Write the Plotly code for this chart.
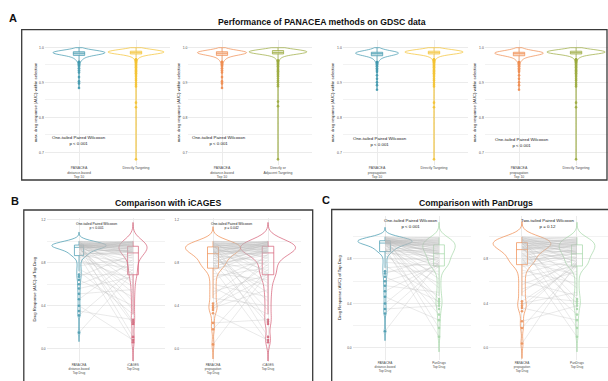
import numpy as np
import plotly.graph_objects as go

W, H = 608, 381
FONT = "Liberation Sans, Arial, Helvetica, sans-serif"

# ---------------- Panel A: max. drug response (AUC) within selection ----------------
# (value, count) pairs read from the violins / box plots
A_dist_top10_vals = [0.999, 0.996, 0.993, 0.991, 0.989, 0.987, 0.985, 0.983, 0.981, 0.979, 0.977, 0.975,
                     0.972, 0.969, 0.966, 0.963, 0.959, 0.955, 0.951, 0.947, 0.94, 0.934, 0.928, 0.915,
                     0.903, 0.897, 0.884]
A_dist_top10_counts = [2, 4, 7, 10, 13, 15, 16, 15, 13, 10, 8, 6, 5, 4, 3, 2, 2, 1, 1, 1, 1, 1, 1, 1, 1, 1, 1]

A_prop_top10_vals = [0.999, 0.996, 0.993, 0.99, 0.988, 0.986, 0.984, 0.982, 0.98, 0.978, 0.976, 0.974,
                     0.971, 0.968, 0.965, 0.962, 0.958, 0.954, 0.95, 0.946, 0.94, 0.935, 0.93, 0.92,
                     0.91, 0.9, 0.892, 0.879]
A_prop_top10_counts = [2, 4, 7, 10, 13, 15, 16, 15, 13, 11, 9, 7, 5, 4, 3, 2, 2, 1, 1, 1, 1, 1, 1, 1, 1, 1, 1, 1]

A_direct_vals = [0.999, 0.997, 0.995, 0.993, 0.991, 0.989, 0.987, 0.985, 0.983, 0.981, 0.979, 0.976,
                 0.973, 0.97, 0.966, 0.962, 0.958, 0.955, 0.951, 0.947, 0.943, 0.938, 0.934, 0.93,
                 0.926, 0.921, 0.916, 0.91, 0.905, 0.899, 0.893, 0.888, 0.842, 0.829, 0.68]
A_direct_counts = [2, 5, 9, 14, 18, 22, 24, 24, 20, 15, 10, 7, 5, 3, 2, 2, 1, 1, 1, 1, 1, 1, 1, 1,
                   1, 1, 1, 1, 1, 1, 1, 1, 1, 1, 1]

A_adjacent_vals = [0.999, 0.997, 0.995, 0.993, 0.991, 0.989, 0.987, 0.985, 0.983, 0.981, 0.979, 0.976,
                   0.973, 0.97, 0.966, 0.962, 0.958, 0.954, 0.95, 0.946, 0.941, 0.936, 0.932, 0.927,
                   0.922, 0.917, 0.911, 0.905, 0.9, 0.894, 0.889, 0.845, 0.832, 0.68]
A_adjacent_counts = [3, 6, 10, 15, 19, 22, 23, 22, 19, 14, 10, 7, 5, 3, 2, 2, 1, 1, 1, 1, 1, 1, 1, 1,
                     1, 1, 1, 1, 1, 1, 1, 1, 1, 1]

# ---------------- Panels B / C: AUC of top drug per cell line (paired by position) ----------------
top_drug_dist = [1.0, 0.998, 0.995, 0.993, 0.99, 0.988, 0.986, 0.984, 0.982, 0.98,
                 0.978, 0.976, 0.974, 0.972, 0.97, 0.968, 0.966, 0.964, 0.962, 0.961,
                 0.96, 0.959, 0.958, 0.957, 0.956, 0.955, 0.954, 0.953, 0.952, 0.951,
                 0.95, 0.948, 0.947, 0.945, 0.944, 0.942, 0.94, 0.937, 0.934, 0.93,
                 0.926, 0.921, 0.916, 0.91, 0.904, 0.898, 0.892, 0.887, 0.882, 0.877,
                 0.873, 0.869, 0.866, 0.85, 0.83, 0.8, 0.77, 0.74, 0.72, 0.69,
                 0.67, 0.64, 0.6, 0.56, 0.51, 0.46, 0.4, 0.35, 0.31, 0.15]
top_drug_prop = [1.0, 0.997, 0.994, 0.99, 0.987, 0.984, 0.981, 0.978, 0.975, 0.972,
                 0.969, 0.966, 0.963, 0.96, 0.957, 0.954, 0.95, 0.947, 0.944, 0.941,
                 0.938, 0.934, 0.93, 0.926, 0.922, 0.918, 0.914, 0.91, 0.906, 0.902,
                 0.899, 0.896, 0.893, 0.89, 0.888, 0.88, 0.872, 0.864, 0.856, 0.848,
                 0.84, 0.832, 0.824, 0.816, 0.808, 0.8, 0.792, 0.784, 0.776, 0.768,
                 0.76, 0.754, 0.749, 0.73, 0.7, 0.67, 0.64, 0.6, 0.57, 0.53,
                 0.5, 0.47, 0.42, 0.4, 0.38, 0.36, 0.33, 0.24, 0.18, 0.04]
top_drug_icages = [0.982, 0.95, 0.998, 0.7, 0.965, 0.936, 0.25, 0.988, 0.905, 0.974,
                   0.84, 0.992, 0.92, 0.959, 0.61, 0.977, 0.894, 1.0, 0.77, 0.946,
                   0.962, 0.11, 0.928, 0.985, 0.86, 0.953, 0.44, 0.908, 0.971, 0.899,
                   0.725, 0.99, 0.932, 0.36, 0.956, 0.888, 0.94, 0.815, 0.968, 0.52,
                   0.902, 0.995, 0.693, 0.916, 0.23, 0.98, 0.87, 0.943, 0.58, 0.896,
                   0.924, 0.8, 0.06, 0.912, 0.64, 0.755, 0.85, 0.48, 0.32, 0.688,
                   0.88, 0.4, 0.785, 0.67, 0.55, 0.83, 0.08, 0.27, 0.74, 0.71]
top_drug_pandrugs = [0.942, 0.99, 0.862, 0.975, 0.907, 0.35, 0.958, 0.836, 0.995, 0.922,
                     0.768, 0.95, 0.887, 0.966, 0.62, 0.931, 0.98, 0.855, 0.44, 0.912,
                     0.946, 0.804, 0.97, 0.897, 0.18, 0.939, 0.872, 0.985, 0.75, 0.917,
                     0.852, 0.962, 0.54, 0.902, 0.936, 0.782, 0.954, 0.867, 0.4, 0.927,
                     0.882, 0.72, 0.933, 0.844, 0.1, 0.892, 0.812, 0.858, 0.66, 0.877,
                     0.745, 0.85, 0.3, 0.828, 0.58, 0.796, 0.737, 0.47, 0.762, 0.69,
                     0.82, 0.42, 0.741, 0.5, 0.756, 0.25, 0.789, 0.38, 0.738, 0.775]

# ---------------- labels ----------------
LBL_DIST10 = "PANACEA<br>distance-based<br>Top 10"
LBL_PROP10 = "PANACEA<br>propagation<br>Top 10"
LBL_DIRECT = "Directly Targeting"
LBL_ADJ = "Directly or<br>Adjacent Targeting"
LBL_DISTTOP = "PANACEA<br>distance-based<br>Top Drug"
LBL_PROPTOP = "PANACEA<br>propagation<br>Top Drug"
LBL_ICAGES = "iCAGES<br>Top Drug"
LBL_PANDRUGS = "PanDrugs<br>Top Drug"
YT_A = "max. drug response (AUC) within selection"
YT_BC = "Drug Response (AUC) of Top Drug"

TEAL = "#3E97AD"
YELLOW = "#F3C22F"
ORANGE = "#EF8A4C"
OLIVE = "#9AA93B"
PINK = "#D45A72"
GREEN = "#A3D7A6"
GRID = "#EBEBEB"
TICK = "#4D4D4D"


def rgba(h, a):
    h = h.lstrip("#")
    return "rgba(%d,%d,%d,%.2f)" % (int(h[0:2], 16), int(h[2:4], 16), int(h[4:6], 16), a)


A_dist = np.repeat(A_dist_top10_vals, A_dist_top10_counts)
A_prop = np.repeat(A_prop_top10_vals, A_prop_top10_counts)
A_dir = np.repeat(A_direct_vals, A_direct_counts)
A_adj = np.repeat(A_adjacent_vals, A_adjacent_counts)

# subplot specs (pixel boxes for layout); ytx = x pixel of the y-axis title
specs = [
    dict(x=(44.8, 170.2), y=(40.0, 164.6), xr=[-0.6, 1.6], yr=[0.665, 1.021], kind="A",
         L=(A_dist, TEAL, 0.91), R=(A_dir, YELLOW, 0.98), labels=[LBL_DIST10, LBL_DIRECT], yt=YT_A, ytx=35,
         note="One-tailed Paired Wilcoxon<br>p &lt; 0.001", nx=0.0, ny=0.733),
    dict(x=(188.4, 311.6), y=(40.0, 164.6), xr=[-0.6, 1.6], yr=[0.665, 1.021], kind="A",
         L=(A_dist, ORANGE, 0.875), R=(A_adj, OLIVE, 1.03), labels=[LBL_DIST10, LBL_ADJ], yt=YT_A, ytx=178,
         note="One-tailed Paired Wilcoxon<br>p &lt; 0.001", nx=-0.05, ny=0.733),
    dict(x=(342.8, 468.2), y=(40.0, 164.6), xr=[-0.6, 1.6], yr=[0.665, 1.021], kind="A",
         L=(A_prop, TEAL, 0.75), R=(A_dir, YELLOW, 1.02), labels=[LBL_PROP10, LBL_DIRECT], yt=YT_A, ytx=332,
         note="One-tailed Paired Wilcoxon<br>p &lt; 0.001", nx=0.05, ny=0.730),
    dict(x=(484.8, 608.0), y=(40.0, 164.6), xr=[-0.6, 1.56], yr=[0.665, 1.021], kind="A",
         L=(A_prop, ORANGE, 0.85), R=(A_dir, OLIVE, 1.02), labels=[LBL_PROP10, LBL_DIRECT], yt=YT_A, ytx=474,
         note="One-tailed Paired Wilcoxon<br>p &lt; 0.001", nx=0.05, ny=0.727),
    dict(x=(46.6, 165.4), y=(217.55, 361.6), xr=[-0.6, 1.6], yr=[-0.12, 1.22], kind="B",
         L=(top_drug_dist, TEAL, 1.0, 0.028, 0.17), R=(top_drug_icages, PINK, 0.52, 0.058, 0.2),
         labels=[LBL_DISTTOP, LBL_ICAGES], yt=YT_BC, ytx=35,
         note="One-tailed Paired Wilcoxon<br>p &lt; 0.001", nx=0.33, ny=1.137),
    dict(x=(180.0, 301.0), y=(217.55, 361.6), xr=[-0.6, 1.6], yr=[-0.12, 1.22], kind="B",
         L=(top_drug_prop, ORANGE, 1.0, 0.045, 0.2), R=(top_drug_icages, PINK, 1.0, 0.058, 0.21),
         labels=[LBL_PROPTOP, LBL_ICAGES], yt=None, ytx=None,
         note="One-tailed Paired Wilcoxon<br>p = 0.042", nx=0.34, ny=1.137),
    dict(x=(352.6, 471.4), y=(215.6, 360.2), xr=[-0.6, 1.6], yr=[-0.11, 1.19], kind="C",
         L=(top_drug_dist, TEAL, 1.0, 0.028, 0.2), R=(top_drug_pandrugs, GREEN, 0.6, 0.045, 0.2),
         labels=[LBL_DISTTOP, LBL_PANDRUGS], yt=YT_BC, ytx=340,
         note="One-tailed Paired Wilcoxon<br>p &lt; 0.001", nx=0.48, ny=1.115),
    dict(x=(489.0, 608.0), y=(215.6, 360.2), xr=[-0.6, 1.564], yr=[-0.11, 1.19], kind="C",
         L=(top_drug_prop, ORANGE, 1.05, 0.045, 0.2), R=(top_drug_pandrugs, GREEN, 0.65, 0.045, 0.2),
         labels=[LBL_PROPTOP, LBL_PANDRUGS], yt=None, ytx=None,
         note="Two-tailed Paired Wilcoxon<br>p = 0.12", nx=0.47, ny=1.115),
]

fig = go.Figure()
layout = dict()
annotations = []

for i, s in enumerate(specs, start=1):
    xa = "x" if i == 1 else "x%d" % i
    ya = "y" if i == 1 else "y%d" % i
    xkey = "xaxis" if i == 1 else "xaxis%d" % i
    ykey = "yaxis" if i == 1 else "yaxis%d" % i
    isA = s["kind"] == "A"

    if not isA:
        left, right = s["L"][0], s["R"][0]
        lx, ly = [], []
        for a, b in zip(left, right):
            lx += [0, 1, None]
            ly += [a, b, None]
        fig.add_trace(go.Scatter(x=lx, y=ly, mode="lines", xaxis=xa, yaxis=ya,
                                 line=dict(color="rgba(185,185,185,0.55)", width=0.55),
                                 hoverinfo="skip"))

    for pos, side in ((0, s["L"]), (1, s["R"])):
        vals, col, vw = side[0], side[1], side[2]
        vals = np.asarray(vals, dtype=float)
        if isA:
            vkw = dict(bandwidth=0.004, spanmode="hard")
            bxw = 0.2
        else:
            bw = side[3]
            bxw = side[4]
            vkw = dict(bandwidth=bw, spanmode="manual", span=[vals.min() - 3 * bw, vals.max() + 3 * bw])
        fig.add_trace(go.Violin(y=vals, x0=pos, xaxis=xa, yaxis=ya, width=vw, scalemode="width",
                                line=dict(color=col, width=0.7), fillcolor="rgba(255,255,255,0)",
                                points=False, box_visible=False, meanline_visible=False,
                                hoverinfo="skip", **vkw))
        fig.add_trace(go.Box(y=vals, x0=pos, xaxis=xa, yaxis=ya, width=bxw,
                             fillcolor=rgba(col, 0.30) if isA else "rgba(255,255,255,0)",
                             line=dict(color=col, width=0.7), whiskerwidth=0,
                             boxpoints="outliers", jitter=0, pointpos=0,
                             marker=dict(color=col, size=2.6, opacity=0.85,
                                         line=dict(width=0)),
                             hoverinfo="skip"))

    tick_font = dict(family=FONT, size=3.4 if isA else 3.2, color=TICK)
    layout[xkey] = dict(domain=[s["x"][0] / W, s["x"][1] / W], range=s["xr"], anchor=ya,
                        tickvals=[0, 1], ticktext=s["labels"], showgrid=True, gridcolor=GRID,
                        gridwidth=0.6, zeroline=False, showline=False, ticks="", ticklen=0,
                        tickfont=dict(family=FONT, size=3.5 if isA else 3.1, color=TICK),
                        fixedrange=True)
    if isA:
        ytv, ytt, mtv = [0.7, 0.8, 0.9, 1.0], ["0.7", "0.8", "0.9", "1.0"], [0.75, 0.85, 0.95]
    elif s["kind"] == "B":
        ytv, ytt, mtv = [0.0, 0.4, 0.8, 1.2], ["0.0", "0.4", "0.8", "1.2"], [0.2, 0.6, 1.0]
    else:
        ytv, ytt, mtv = [0.0, 0.4, 0.8], ["0.0", "0.4", "0.8"], [0.2, 0.6, 1.0]
    layout[ykey] = dict(domain=[1 - s["y"][1] / H, 1 - s["y"][0] / H], range=s["yr"], anchor=xa,
                        tickvals=ytv, ticktext=ytt, showgrid=True, gridcolor=GRID, gridwidth=0.6,
                        zeroline=False, showline=False, ticks="", ticklen=0, tickfont=tick_font,
                        minor=dict(tickvals=mtv, showgrid=True, gridcolor="#F2F2F2", gridwidth=0.5),
                        fixedrange=True)
    if s["yt"]:
        ymid = (s["y"][0] + s["y"][1]) / 2
        annotations.append(dict(x=s["ytx"] / W, y=1 - ymid / H, xref="paper", yref="paper", text=s["yt"],
                                textangle=-90, showarrow=False,
                                font=dict(family=FONT, size=4.2, color="#1A1A1A"),
                                xanchor="center", yanchor="middle"))

    annotations.append(dict(x=s["nx"], y=s["ny"], xref=xa, yref=ya, text=s["note"], showarrow=False,
                            font=dict(family=FONT, size=4.4 if s["kind"] != "B" else 3.4, color="#1A1A1A"),
                            align="center", xanchor="center", yanchor="middle"))

# panel letters and titles
for txt, x, y, sz in [("A", 13, 18, 11), ("B", 15, 201, 11), ("C", 326, 200, 11)]:
    annotations.append(dict(x=x / W, y=1 - y / H, xref="paper", yref="paper", text="<b>%s</b>" % txt,
                            showarrow=False, font=dict(family=FONT, size=sz, color="#111111"),
                            xanchor="center", yanchor="middle"))
for txt, x, y in [("Performance of PANACEA methods on GDSC data", 322, 22),
                  ("Comparison with iCAGES", 168, 203),
                  ("Comparison with PanDrugs", 476, 203)]:
    annotations.append(dict(x=x / W, y=1 - y / H, xref="paper", yref="paper", text="<b>%s</b>" % txt,
                            showarrow=False, font=dict(family=FONT, size=8.7, color="#111111"),
                            xanchor="center", yanchor="middle"))

shapes = []
for (x0, y0, x1, y1) in [(21.7, 29.7, 607.0, 180.0), (23.8, 210.0, 312.7, 392.0), (331.7, 209.5, 615.0, 392.0)]:
    shapes.append(dict(type="rect", xref="paper", yref="paper", x0=x0 / W, x1=x1 / W,
                       y0=1 - y1 / H, y1=1 - y0 / H, line=dict(color="#3A3A3A", width=1.3),
                       fillcolor="rgba(0,0,0,0)", layer="above"))

fig.update_layout(width=W, height=H, margin=dict(l=0, r=0, t=0, b=0), showlegend=False,
                  plot_bgcolor="white", paper_bgcolor="white", violinmode="overlay", boxmode="overlay",
                  annotations=annotations, shapes=shapes, font=dict(family=FONT), **layout)

fig.write_html("out.html", config={"displayModeBar": False},
               post_script="document.body.style.margin='0px';document.body.style.overflow='hidden';")
